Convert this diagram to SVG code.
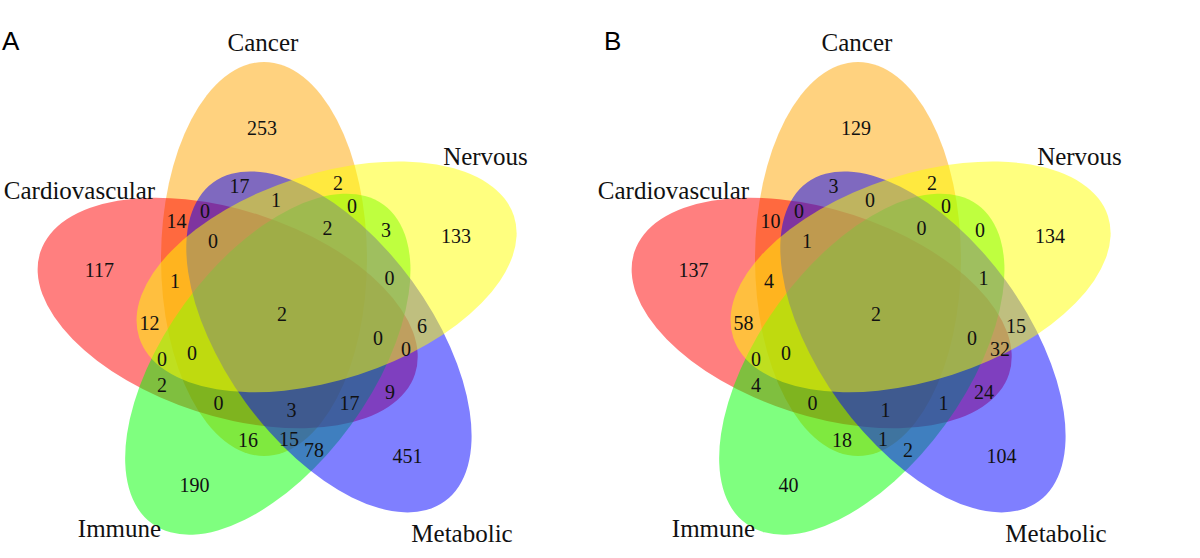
<svg xmlns="http://www.w3.org/2000/svg" xmlns:xlink="http://www.w3.org/1999/xlink" width="1200" height="558" viewBox="0 0 1200 558">
<style>
.n{font-family:"Liberation Serif","Times New Roman",serif;font-size:20px;text-anchor:middle;fill:#111}
.c{font-family:"Liberation Serif","Times New Roman",serif;font-size:25px;text-anchor:middle;fill:#111}
.p{font-family:"Liberation Sans",Arial,sans-serif;font-size:26px;fill:#000}
.s{fill-opacity:0.5}
.ca{fill:#FFA500}.cv{fill:#FF0000}.im{fill:#00FF00}.me{fill:#0000FF}.ne{fill:#FFFF00}
</style>
<defs>
<ellipse id="e" cx="264" cy="259" rx="103" ry="197"/>
</defs>
<rect width="1200" height="558" fill="#fff"/>

<g id="panel-a">
  <text class="p" x="2" y="50">A</text>
  <g id="a-cancer"><use xlink:href="#e" href="#e" class="s ca"/><text class="c" x="263" y="51">Cancer</text></g>
  <g id="a-cardiovascular"><use xlink:href="#e" href="#e" class="s cv" transform="rotate(-72 283 311)"/><text class="c" x="79.5" y="199">Cardiovascular</text></g>
  <g id="a-immune"><use xlink:href="#e" href="#e" class="s im" transform="rotate(-144 283 311)"/><text class="c" x="119.5" y="537">Immune</text></g>
  <g id="a-metabolic"><use xlink:href="#e" href="#e" class="s me" transform="rotate(144 283 311)"/><text class="c" x="462" y="542">Metabolic</text></g>
  <g id="a-nervous"><use xlink:href="#e" href="#e" class="s ne" transform="rotate(72 283 311)"/><text class="c" x="485.5" y="165">Nervous</text></g>
  <g id="a-counts" class="n">
    <text class="n" x="262" y="135">253</text>
    <text class="n" x="239.5" y="193">17</text>
    <text class="n" x="338" y="190">2</text>
    <text class="n" x="276" y="207">1</text>
    <text class="n" x="205" y="218">0</text>
    <text class="n" x="176.5" y="228">14</text>
    <text class="n" x="352" y="213">0</text>
    <text class="n" x="327.5" y="235">2</text>
    <text class="n" x="386" y="237">3</text>
    <text class="n" x="213" y="248">0</text>
    <text class="n" x="175" y="288">1</text>
    <text class="n" x="389.5" y="285">0</text>
    <text class="n" x="456" y="243">133</text>
    <text class="n" x="99.5" y="277">117</text>
    <text class="n" x="149.5" y="330">12</text>
    <text class="n" x="162" y="366">0</text>
    <text class="n" x="192" y="360">0</text>
    <text class="n" x="162" y="392">2</text>
    <text class="n" x="218.5" y="410">0</text>
    <text class="n" x="248" y="447">16</text>
    <text class="n" x="289" y="446">15</text>
    <text class="n" x="291.5" y="417">3</text>
    <text class="n" x="282" y="321">2</text>
    <text class="n" x="378" y="345">0</text>
    <text class="n" x="406" y="356">0</text>
    <text class="n" x="422" y="333">6</text>
    <text class="n" x="390" y="399">9</text>
    <text class="n" x="349.5" y="410">17</text>
    <text class="n" x="314" y="457">78</text>
    <text class="n" x="407.5" y="463">451</text>
    <text class="n" x="194.5" y="492">190</text>
  </g>
</g>

<g id="panel-b" transform="translate(594 0)">
  <text class="p" x="10" y="50">B</text>
  <g id="b-cancer"><use xlink:href="#e" href="#e" class="s ca"/><text class="c" x="263" y="51">Cancer</text></g>
  <g id="b-cardiovascular"><use xlink:href="#e" href="#e" class="s cv" transform="rotate(-72 283 311)"/><text class="c" x="79.5" y="199">Cardiovascular</text></g>
  <g id="b-immune"><use xlink:href="#e" href="#e" class="s im" transform="rotate(-144 283 311)"/><text class="c" x="119.5" y="537">Immune</text></g>
  <g id="b-metabolic"><use xlink:href="#e" href="#e" class="s me" transform="rotate(144 283 311)"/><text class="c" x="462" y="542">Metabolic</text></g>
  <g id="b-nervous"><use xlink:href="#e" href="#e" class="s ne" transform="rotate(72 283 311)"/><text class="c" x="485.5" y="165">Nervous</text></g>
  <g id="b-counts">
    <text class="n" x="262" y="135">129</text>
    <text class="n" x="239.5" y="193">3</text>
    <text class="n" x="338" y="190">2</text>
    <text class="n" x="276" y="207">0</text>
    <text class="n" x="205" y="218">0</text>
    <text class="n" x="176.5" y="228">10</text>
    <text class="n" x="352" y="213">0</text>
    <text class="n" x="327.5" y="235">0</text>
    <text class="n" x="386" y="237">0</text>
    <text class="n" x="213" y="248">1</text>
    <text class="n" x="175" y="288">4</text>
    <text class="n" x="389.5" y="285">1</text>
    <text class="n" x="456" y="243">134</text>
    <text class="n" x="99.5" y="277">137</text>
    <text class="n" x="149.5" y="330">58</text>
    <text class="n" x="162" y="366">0</text>
    <text class="n" x="192" y="360">0</text>
    <text class="n" x="162" y="392">4</text>
    <text class="n" x="218.5" y="410">0</text>
    <text class="n" x="248" y="447">18</text>
    <text class="n" x="289" y="446">1</text>
    <text class="n" x="291.5" y="417">1</text>
    <text class="n" x="282" y="321">2</text>
    <text class="n" x="378" y="345">0</text>
    <text class="n" x="406" y="356">32</text>
    <text class="n" x="422" y="333">15</text>
    <text class="n" x="390" y="399">24</text>
    <text class="n" x="349.5" y="410">1</text>
    <text class="n" x="314" y="457">2</text>
    <text class="n" x="407.5" y="463">104</text>
    <text class="n" x="194.5" y="492">40</text>
  </g>
</g>
</svg>
